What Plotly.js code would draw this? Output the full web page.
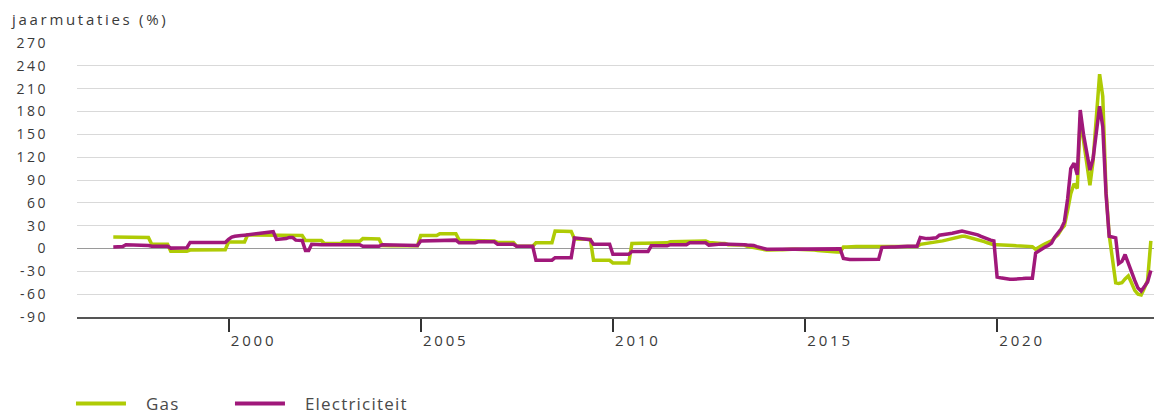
<!DOCTYPE html>
<html>
<head>
<meta charset="utf-8">
<script src="https://cdn.plot.ly/plotly-3.0.1.min.js"></script>
<style>
html,body{margin:0;padding:0;background:#fff;}
#chart{width:1154px;height:414px;}
.ytick text{letter-spacing:2.5px;}
.xtick text{letter-spacing:2.8px;}
.legendtext{letter-spacing:1.2px;}
.legend .scrollbox{clip-path:none !important;}
.legendlines path{stroke-width:4px !important;stroke-dasharray:50px 300px !important;}
.gtitle{letter-spacing:2.7px;}
</style>
</head>
<body>
<div id="chart"></div>
<script>
// Monthly series, January 1997 through January 2024
const startYear = 1997;
const gasValues = [
  15,15,15,15,15,15,15,15,15,14.5,14.5,14.5,            // 1997
  5.5,5.5,5.5,5.5,5.5,5.5,-3.5,-3.5,-3.5,-3.5,-3.5,-3.5, // 1998
  -2,-2,-2,-2,-2,-2,-1.5,-1.5,-1.5,-1.5,-1.5,-1.5,      // 1999
  8.5,8.5,8.5,8.5,8.5,8.5,18,18,18,18,18,18,            // 2000
  18,18,18,17.5,17.5,17.5,17,17,17,17,17,17,            // 2001
  10.5,10.5,10.5,10.5,10.5,10.5,6.5,6.5,6.5,6.5,6.5,6.5, // 2002
  9.5,9.5,9.5,9.5,9.5,9.5,13,13,13,12.5,12.5,12.5,      // 2003
  4,3.5,3.5,3.5,3.5,3.5,3.5,3.5,3.5,3.5,3.5,3.5,        // 2004
  17,17,17,17,17,17,19.5,19.5,19.5,19.5,19.5,19.5,      // 2005
  11,11,11,11,11,11,10,10,10,10,10,10,                  // 2006
  8,8,8,8,8,8,3,3,3,3,3,3,                              // 2007
  7.5,7.5,7.5,7.5,7.5,7.5,23,23,23,23,23,22.5,          // 2008
  12.5,12.5,12.5,12,12,12,-15.5,-15.5,-15.5,-15.5,-15.5,-15.5, // 2009
  -19,-19,-19,-19,-19,-19,6.5,7,7,7,7,7,                // 2010
  7.5,7.5,7.5,7.5,7.5,7.5,9,9,9,9,9,9,                  // 2011
  10,10,10,10,10,10,8,8,7.5,7,6.5,6.5,                  // 2012
  5,5,5,5,5,4.5,3,2,1,0,-1,-2,                          // 2013
  -2,-2,-1.5,-1.5,-1.5,-1.5,-1,-1,-1,-1,-1,-1,          // 2014
  -1,-1.5,-2,-2,-2.5,-3,-3,-3.5,-3.5,-4,-4.5,-4.5,      // 2015
  2,2,2.5,2.5,2.5,2.5,2.5,2.5,2.5,2.5,3,3,              // 2016
  2,2,2,2,2,2,2.5,2.5,2.5,2.5,2.5,2.5,                  // 2017
  5.5,6,6.5,7,7.5,8,9,10,11,12,13,14,                   // 2018
  15.5,16,16,15,14,13,12,10.5,9,7.5,6,5,                // 2019
  5,5,4.5,4.5,4,4,3.5,3.5,3.5,3,3,2.5,                  // 2020
  -1,2,4,6,8,10,14,18,25,30,50,72,                      // 2021
  85,79,172,140,110,83,115,170,229,200,75,18,           // 2022
  -18,-45,-46,-45,-40,-36,-45,-55,-60,-61,-52,-42,      // 2023
  10                                                    // 2024
];
const elecValues = [
  2,2,2,2.5,5,5,4.5,4.5,4.5,4,4,4,                      // 1997
  3,3,3,3,3,3,0.5,0.5,0.5,0.5,1,1,                      // 1998
  8,8,8,8,8,8,8,8,8,8,8,8,                              // 1999
  12,15,16,17,17,17.5,18,19,20,20,20.5,21,              // 2000
  21,21.5,22,12,12,12.5,13,14.5,14.5,11,11,10.5,        // 2001
  -2.5,-2.5,5.5,5,5,5,5,5,5,5,5,5,                      // 2002
  5,5,5,5,5,5,3,3,3,3,3,3,                              // 2003
  5,5,5,4.5,4.5,4.5,4,4,4,4,4,4,                        // 2004
  10,10,10,10,10,10,11,11,11,11,11,11,                  // 2005
  7.5,7.5,7.5,7.5,7.5,7.5,8.8,8.8,8.8,8.8,8.8,8.8,      // 2006
  5.7,5.7,5.7,5.7,5.7,5.7,3,3,3,3,3,3,                  // 2007
  -15.4,-15.4,-15.4,-15.4,-15.4,-15.4,-12,-12,-12,-12,-12,-12, // 2008
  14,13.5,13,12,12,11.5,5.7,5.7,5.7,5.7,5.7,5.7,        // 2009
  -7.5,-7.5,-7.5,-7.5,-7.5,-7.5,-4,-4,-4,-4,-4,-4,      // 2010
  3.5,3.5,3.5,3.5,3.5,3.5,5,5,5,5,5,5,                  // 2011
  7.5,7.5,7.5,7.5,7.5,7.5,4.5,4.5,4.5,5.5,6,6,          // 2012
  6,5.5,5.5,5,5,5,4.5,4.5,4,2.5,1,0,                    // 2013
  -1,-1,-1,-1,-1,-1,-1,-1,-1,-1,-1,-1,                  // 2014
  -0.5,-0.5,-0.5,-0.5,-0.5,-0.5,-0.5,-0.5,-0.5,-0.5,-0.5,-0.5, // 2015
  -13,-14,-14.5,-14.5,-14.5,-14.5,-14.5,-14.5,-14.5,-14,-14,-14, // 2016
  1.5,2,2,2,2,2.5,2.5,2.5,3,3,3,3,                      // 2017
  14.5,13.5,13,13,13.5,14,17.5,18.5,19,19.5,20,20.5,    // 2018
  22,22.8,22,21,20,19,18,16,14,12,11,10,                // 2019
  -37.5,-38.5,-39.5,-40,-40.5,-40.5,-40.5,-40,-39.5,-39,-39,-39, // 2020
  -6,-3,0,2,4,7,15,20,26,35,65,105,                     // 2021
  112,97,182,150,125,103,118,150,187,160,72,16,         // 2022
  15,14,-20,-17,-8,-20,-30,-42,-52,-56,-50,-44,         // 2023
  -29                                                   // 2024
];
const seriesNames = ['Gas', 'Electriciteit'];
const yTickVals = [-90,-60,-30,0,30,60,90,120,150,180,210,240,270];
const xTickYears = [2000, 2005, 2010, 2015, 2020];
const yTitle = 'jaarmutaties (%)';

function pad(n){ return (n < 10 ? '0' : '') + n; }
const dates = gasValues.map(function(_, i){
  const y = startYear + Math.floor(i / 12);
  const m = (i % 12) + 1;
  return y + '-' + pad(m) + '-01';
});

const font = "'Open Sans', 'Noto Sans', sans-serif";
const textColor = '#3a3a3a';
const traces = [
  {x: dates, y: gasValues, name: seriesNames[0], type: 'scatter', mode: 'lines',
   line: {color: '#afcb05', width: 3.5}},
  {x: dates, y: elecValues, name: seriesNames[1], type: 'scatter', mode: 'lines',
   line: {color: '#a0187a', width: 3.5}}
];

const layout = {
  width: 1154, height: 414,
  margin: {l: 77, r: 0, t: 43, b: 97, pad: 0},
  paper_bgcolor: '#ffffff', plot_bgcolor: '#ffffff',
  font: {family: font, size: 13, color: textColor},
  title: {text: yTitle, x: 0.0104, xanchor: 'left', xref: 'container',
          y: 0.952, yanchor: 'middle', yref: 'container',
          font: {family: font, size: 15, color: textColor}},
  showlegend: true,
  legend: {orientation: 'h', xref: 'container', yref: 'container',
           x: 0.0615, xanchor: 'left', y: 0.024, yanchor: 'middle',
           font: {family: font, size: 17, color: '#4a4a4a'},
           entrywidth: 79, entrywidthmode: 'pixels', itemwidth: 65,
           bgcolor: 'rgba(0,0,0,0)'},
  xaxis: {type: 'date', range: ['1996-01-22', '2024-01-31'],
          tickvals: xTickYears.map(function(y){ return y + '-01-01'; }),
          ticktext: xTickYears.map(String),
          ticks: 'outside', ticklen: 13, tickwidth: 2, tickcolor: '#333333',
          ticklabelshift: 25, ticklabelstandoff: -4,
          showgrid: false, zeroline: false,
          showline: true, linecolor: '#555555', linewidth: 2,
          tickfont: {family: font, size: 15, color: textColor},
          fixedrange: true},
  yaxis: {range: [-90, 270], tickvals: yTickVals, ticktext: yTickVals.map(String),
          showgrid: true, gridcolor: '#d9d9d9', gridwidth: 1,
          zeroline: true, zerolinecolor: '#9a9a9a', zerolinewidth: 1,
          showline: false, ticks: '', ticklabelstandoff: 28,
          tickfont: {family: font, size: 14, color: textColor},
          fixedrange: true}
};

Plotly.newPlot('chart', traces, layout, {displayModeBar: false, staticPlot: true});
</script>
</body>
</html>
